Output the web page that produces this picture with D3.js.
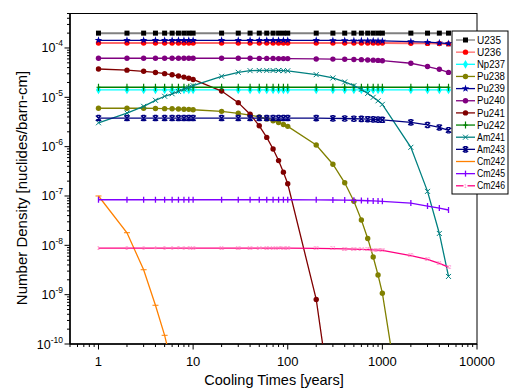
<!DOCTYPE html>
<html>
<head>
<meta charset="utf-8">
<script src="https://cdn.jsdelivr.net/npm/d3@7"></script>
<style>
  body { margin: 0; background: #fff; }
  text { font-family: "Liberation Sans", Arial, sans-serif; }
</style>
</head>
<body>
<script>
// cooling times (years)
var times = [1, 2, 3, 4, 5, 6, 7, 8, 9, 10,
             20, 30, 40, 50, 60, 70, 80, 90, 100,
             200, 300, 400, 500, 600, 700, 800, 900, 1000,
             2000, 3000, 4000, 5000];

var u235 = [2.0e-4, 2.0e-4, 2.0e-4, 2.0e-4, 2.0e-4, 2.0e-4, 2.0e-4, 2.0e-4, 2.0e-4, 2.0e-4,
            2.0e-4, 2.0e-4, 2.0e-4, 2.0e-4, 2.0e-4, 2.0e-4, 2.0e-4, 2.0e-4, 2.0e-4,
            2.0e-4, 2.0e-4, 2.0e-4, 2.0e-4, 2.0e-4, 2.0e-4, 2.0e-4, 2.0e-4, 2.0e-4,
            2.0e-4, 2.0e-4, 2.0e-4, 2.0e-4];
var u236 = [1.26e-4, 1.26e-4, 1.26e-4, 1.26e-4, 1.26e-4, 1.26e-4, 1.26e-4, 1.26e-4, 1.26e-4, 1.26e-4,
            1.26e-4, 1.26e-4, 1.26e-4, 1.26e-4, 1.26e-4, 1.26e-4, 1.26e-4, 1.26e-4, 1.26e-4,
            1.26e-4, 1.26e-4, 1.26e-4, 1.26e-4, 1.26e-4, 1.26e-4, 1.26e-4, 1.26e-4, 1.26e-4,
            1.25e-4, 1.24e-4, 1.23e-4, 1.21e-4];
var np237 = [1.41e-5, 1.41e-5, 1.41e-5, 1.41e-5, 1.41e-5, 1.41e-5, 1.41e-5, 1.41e-5, 1.41e-5, 1.41e-5,
             1.41e-5, 1.41e-5, 1.41e-5, 1.41e-5, 1.41e-5, 1.41e-5, 1.41e-5, 1.41e-5, 1.41e-5,
             1.41e-5, 1.41e-5, 1.41e-5, 1.41e-5, 1.41e-5, 1.41e-5, 1.41e-5, 1.41e-5, 1.41e-5,
             1.41e-5, 1.41e-5, 1.41e-5, 1.41e-5];
var pu238 = [6.0e-6, 6.0e-6, 6.0e-6, 5.95e-6, 5.9e-6, 5.85e-6, 5.8e-6, 5.75e-6, 5.7e-6, 5.6e-6,
             5.2e-6, 4.75e-6, 4.35e-6, 4.0e-6, 3.65e-6, 3.35e-6, 3.08e-6, 2.82e-6, 2.58e-6,
             1.08e-6, 4.4e-7, 1.85e-7, 7.8e-8, 3.25e-8, 1.38e-8, 5.8e-9, 2.5e-9, 1.07e-9,
             2.5e-13, null, null, null];
var pu239 = [1.43e-4, 1.43e-4, 1.43e-4, 1.43e-4, 1.43e-4, 1.43e-4, 1.43e-4, 1.43e-4, 1.43e-4, 1.43e-4,
             1.43e-4, 1.43e-4, 1.43e-4, 1.43e-4, 1.43e-4, 1.43e-4, 1.43e-4, 1.43e-4, 1.43e-4,
             1.43e-4, 1.42e-4, 1.42e-4, 1.41e-4, 1.41e-4, 1.40e-4, 1.40e-4, 1.39e-4, 1.39e-4,
             1.35e-4, 1.31e-4, 1.27e-4, 1.23e-4];
var pu240 = [6.2e-5, 6.2e-5, 6.2e-5, 6.2e-5, 6.2e-5, 6.2e-5, 6.2e-5, 6.2e-5, 6.2e-5, 6.2e-5,
             6.2e-5, 6.2e-5, 6.2e-5, 6.15e-5, 6.15e-5, 6.15e-5, 6.1e-5, 6.1e-5, 6.1e-5,
             6.0e-5, 5.95e-5, 5.9e-5, 5.85e-5, 5.8e-5, 5.72e-5, 5.67e-5, 5.6e-5, 5.53e-5,
             4.9e-5, 4.2e-5, 3.7e-5, 3.2e-5];
var pu241 = [3.75e-5, 3.55e-5, 3.37e-5, 3.19e-5, 3.02e-5, 2.86e-5, 2.71e-5, 2.57e-5, 2.43e-5, 2.30e-5,
             1.34e-5, 7.8e-6, 4.55e-6, 2.65e-6, 1.54e-6, 8.96e-7, 5.22e-7, 3.04e-7, 1.77e-7,
             8.0e-10, 3.5e-12, null, null, null, null, null, null, null,
             null, null, null, null];
var pu242 = [1.6e-5, 1.6e-5, 1.6e-5, 1.6e-5, 1.6e-5, 1.6e-5, 1.6e-5, 1.6e-5, 1.6e-5, 1.6e-5,
             1.6e-5, 1.6e-5, 1.6e-5, 1.6e-5, 1.6e-5, 1.6e-5, 1.6e-5, 1.6e-5, 1.6e-5,
             1.6e-5, 1.6e-5, 1.6e-5, 1.6e-5, 1.6e-5, 1.6e-5, 1.6e-5, 1.6e-5, 1.6e-5,
             1.6e-5, 1.6e-5, 1.6e-5, 1.6e-5];
var am241 = [3.05e-6, 4.8e-6, 6.57e-6, 8.7e-6, 1.05e-5, 1.18e-5, 1.32e-5, 1.47e-5, 1.59e-5, 1.72e-5,
             2.67e-5, 3.21e-5, 3.47e-5, 3.5e-5, 3.5e-5, 3.5e-5, 3.5e-5, 3.47e-5, 3.45e-5,
             2.88e-5, 2.47e-5, 2.05e-5, 1.72e-5, 1.45e-5, 1.2e-5, 1.0e-5, 8.5e-6, 7.2e-6,
             9.7e-7, 1.24e-7, 1.74e-8, 2.34e-9];
var am243 = [3.8e-6, 3.8e-6, 3.8e-6, 3.8e-6, 3.8e-6, 3.8e-6, 3.8e-6, 3.8e-6, 3.8e-6, 3.8e-6,
             3.8e-6, 3.8e-6, 3.8e-6, 3.8e-6, 3.8e-6, 3.8e-6, 3.8e-6, 3.8e-6, 3.8e-6,
             3.78e-6, 3.75e-6, 3.72e-6, 3.68e-6, 3.65e-6, 3.6e-6, 3.57e-6, 3.53e-6, 3.5e-6,
             3.1e-6, 2.75e-6, 2.45e-6, 2.15e-6];
var cm242 = [1.0e-7, 1.8e-8, 3.2e-9, 6.1e-10, 1.5e-10, 3.5e-11, null, null, null, null,
             null, null, null, null, null, null, null, null, null,
             null, null, null, null, null, null, null, null, null,
             null, null, null, null];
var cm245 = [8.4e-8, 8.4e-8, 8.4e-8, 8.4e-8, 8.4e-8, 8.4e-8, 8.4e-8, 8.4e-8, 8.4e-8, 8.4e-8,
             8.4e-8, 8.4e-8, 8.4e-8, 8.4e-8, 8.4e-8, 8.4e-8, 8.4e-8, 8.4e-8, 8.4e-8,
             8.35e-8, 8.3e-8, 8.25e-8, 8.2e-8, 8.1e-8, 8.0e-8, 7.95e-8, 7.9e-8, 7.8e-8,
             7.2e-8, 6.25e-8, 5.7e-8, 5.2e-8];
var cm246 = [8.8e-9, 8.8e-9, 8.8e-9, 8.8e-9, 8.8e-9, 8.8e-9, 8.8e-9, 8.8e-9, 8.8e-9, 8.8e-9,
             8.8e-9, 8.8e-9, 8.8e-9, 8.8e-9, 8.8e-9, 8.8e-9, 8.8e-9, 8.8e-9, 8.8e-9,
             8.7e-9, 8.6e-9, 8.5e-9, 8.4e-9, 8.3e-9, 8.2e-9, 8.1e-9, 8.0e-9, 7.9e-9,
             6.2e-9, 5.2e-9, 4.3e-9, 3.6e-9];

var names = ["U235", "U236", "Np237", "Pu238", "Pu239", "Pu240", "Pu241", "Pu242",
             "Am241", "Am243", "Cm242", "Cm245", "Cm246"];
var values = [u235, u236, np237, pu238, pu239, pu240, pu241, pu242,
              am241, am243, cm242, cm245, cm246];
var xTicks = [1, 10, 100, 1000, 10000];
var yTicks = [-10, -9, -8, -7, -6, -5, -4];

var colors = ["#000000", "#ff0000", "#00ffff", "#808000", "#0000a0", "#800080", "#800000", "#008000",
              "#008080", "#000080", "#ff8000", "#8000ff", "#ff0080"];
var lineColors = ["#808080", "#ff6a6a", "#00ffff", "#808000", "#000090", "#800080", "#800000", "#008000",
                  "#008080", "#000080", "#ff8000", "#8000ff", "#ff0080"];
var symbols = ["square", "circle", "diamond", "circle", "star", "circle", "circle", "plus",
               "x", "asterisk", "hbar", "vbar", "index"];

var svg = d3.select("body").append("svg").attr("width", 511).attr("height", 392);

var pL = 70, pR = 477, pT = 13.5, pB = 344;

var x = d3.scaleLog().domain([0.5, 10000]).range([pL, pR]);
var y = d3.scaleLog().domain([1e-10, 5e-4]).range([pB, pT]);

svg.append("defs").append("clipPath").attr("id", "clip")
  .append("rect").attr("x", pL).attr("y", pT).attr("width", pR - pL).attr("height", pB - pT);

// frame
svg.append("rect").attr("x", pL).attr("y", pT).attr("width", pR - pL).attr("height", pB - pT)
  .attr("fill", "none").attr("stroke", "#000").attr("stroke-width", 1);

// minor + major ticks
var xMinor = [], yMinor = [];
for (var e = -1; e < 4; e++) for (var m = 2; m < 10; m++) { var v = m * Math.pow(10, e); if (v >= 0.5 && v <= 10000) xMinor.push(v); }
for (var e = -10; e < -3; e++) for (var m = 2; m < 10; m++) { var v = m * Math.pow(10, e); if (v <= 5e-4) yMinor.push(v); }

var axes = svg.append("g").attr("stroke", "#000");
axes.append("line").attr("x1", pL).attr("x2", pR).attr("y1", pB).attr("y2", pB).attr("stroke-width", 1.5);
axes.append("line").attr("x1", pL).attr("x2", pL).attr("y1", pT).attr("y2", pB).attr("stroke-width", 1.5);

axes.selectAll(".xmin").data(xMinor).enter().append("line")
  .attr("x1", d => x(d)).attr("x2", d => x(d)).attr("y1", pB).attr("y2", pB + 3);
axes.selectAll(".xmaj").data(xTicks).enter().append("line")
  .attr("x1", d => x(d)).attr("x2", d => x(d)).attr("y1", pB).attr("y2", pB + 5.5);
axes.selectAll(".ymin").data(yMinor).enter().append("line")
  .attr("x1", pL - 3).attr("x2", pL).attr("y1", d => y(d)).attr("y2", d => y(d));
axes.selectAll(".ymaj").data(yTicks).enter().append("line")
  .attr("x1", pL - 5.5).attr("x2", pL).attr("y1", d => y(Math.pow(10, d))).attr("y2", d => y(Math.pow(10, d)));

svg.selectAll(".xl").data(xTicks).enter().append("text")
  .attr("x", d => x(d)).attr("y", 366).attr("text-anchor", "middle")
  .attr("font-size", 13).text(d => d);

var yl = svg.selectAll(".yl").data(yTicks).enter().append("text")
  .attr("x", 63).attr("y", d => y(Math.pow(10, d)) + 4.5).attr("text-anchor", "end")
  .attr("font-size", 12.5);
yl.append("tspan").text("10");
yl.append("tspan").attr("font-size", 8.5).attr("dy", -6).text(d => "-" + Math.abs(d));

svg.append("text").attr("x", 274).attr("y", 385).attr("text-anchor", "middle")
  .attr("font-size", 14.5).text("Cooling Times [years]");
svg.append("text").attr("transform", "translate(27,188) rotate(-90)").attr("text-anchor", "middle")
  .attr("font-size", 15).text("Number Density [nuclides/barn-cm]");

// markers
function drawMarker(g, type, color, i) {
  if (type === "square") g.append("rect").attr("x", -2.5).attr("y", -2.5).attr("width", 5).attr("height", 5).attr("fill", color);
  else if (type === "circle") g.append("circle").attr("r", 2.7).attr("fill", color);
  else if (type === "diamond") g.append("path").attr("d", d3.symbol(d3.symbolDiamond, 22)()).attr("fill", color);
  else if (type === "star") g.append("path").attr("d", d3.symbol(d3.symbolStar, 18)()).attr("fill", color);
  else if (type === "plus") g.append("path").attr("d", "M-2,0H2M0,-3.5V3.5").attr("stroke", color).attr("stroke-width", 1.2);
  else if (type === "x") g.append("path").attr("d", "M-2.5,-2.5L2.5,2.5M-2.5,2.5L2.5,-2.5").attr("stroke", color).attr("stroke-width", 1);
  else if (type === "asterisk") g.append("path").attr("d", "M-2.6,-2.6L2.6,2.6M-2.6,2.6L2.6,-2.6M-1.5,-2.6H1.5M-1.5,2.6H1.5").attr("stroke", color).attr("stroke-width", 1.4);
  else if (type === "hbar") g.append("path").attr("d", "M-3,0H3").attr("stroke", color).attr("stroke-width", 1);
  else if (type === "vbar") g.append("path").attr("d", "M0,-3V3").attr("stroke", color).attr("stroke-width", 1.3);
  else if (type === "index") g.append("text").attr("text-anchor", "middle").attr("y", 1.8).attr("font-size", 5)
    .attr("fill", "#ff80c0").text(i + 1);
}

var line = d3.line().defined(d => d[1] != null).x(d => x(d[0])).y(d => y(d[1]));
var plot = svg.append("g").attr("clip-path", "url(#clip)");

values.forEach(function(vals, k) {
  var pts = times.map((t, i) => [t, vals[i]]);
  plot.append("path").datum(pts).attr("d", line).attr("fill", "none")
    .attr("stroke", lineColors[k]).attr("stroke-width", k < 2 ? 2 : 1.3);
  pts.forEach(function(p, i) {
    if (p[1] == null || p[1] < 1e-10) return;
    var g = plot.append("g").attr("transform", "translate(" + x(p[0]) + "," + y(p[1]) + ")");
    drawMarker(g, symbols[k], colors[k], i);
  });
});

// legend
var lg = svg.append("g");
lg.append("rect").attr("x", 452).attr("y", 31).attr("width", 56).attr("height", 163)
  .attr("fill", "#fff").attr("stroke", "#000").attr("stroke-width", 1);
names.forEach(function(n, k) {
  var yy = 40 + k * 12.15;
  lg.append("line").attr("x1", 456).attr("x2", 475).attr("y1", yy).attr("y2", yy)
    .attr("stroke", lineColors[k]).attr("stroke-width", 1.3);
  var g = lg.append("g").attr("transform", "translate(465.5," + yy + ")");
  if (symbols[k] === "index") {
    g.append("rect").attr("x", -2).attr("y", -3).attr("width", 4).attr("height", 6).attr("fill", "#fff");
  }
  drawMarker(g, symbols[k], colors[k], 0);
  lg.append("text").attr("x", 477).attr("y", yy + 3.6).attr("font-size", 10).attr("textLength", n.length > 4 ? 28 : 24)
    .attr("lengthAdjust", "spacingAndGlyphs").text(n);
});
</script>
</body>
</html>
